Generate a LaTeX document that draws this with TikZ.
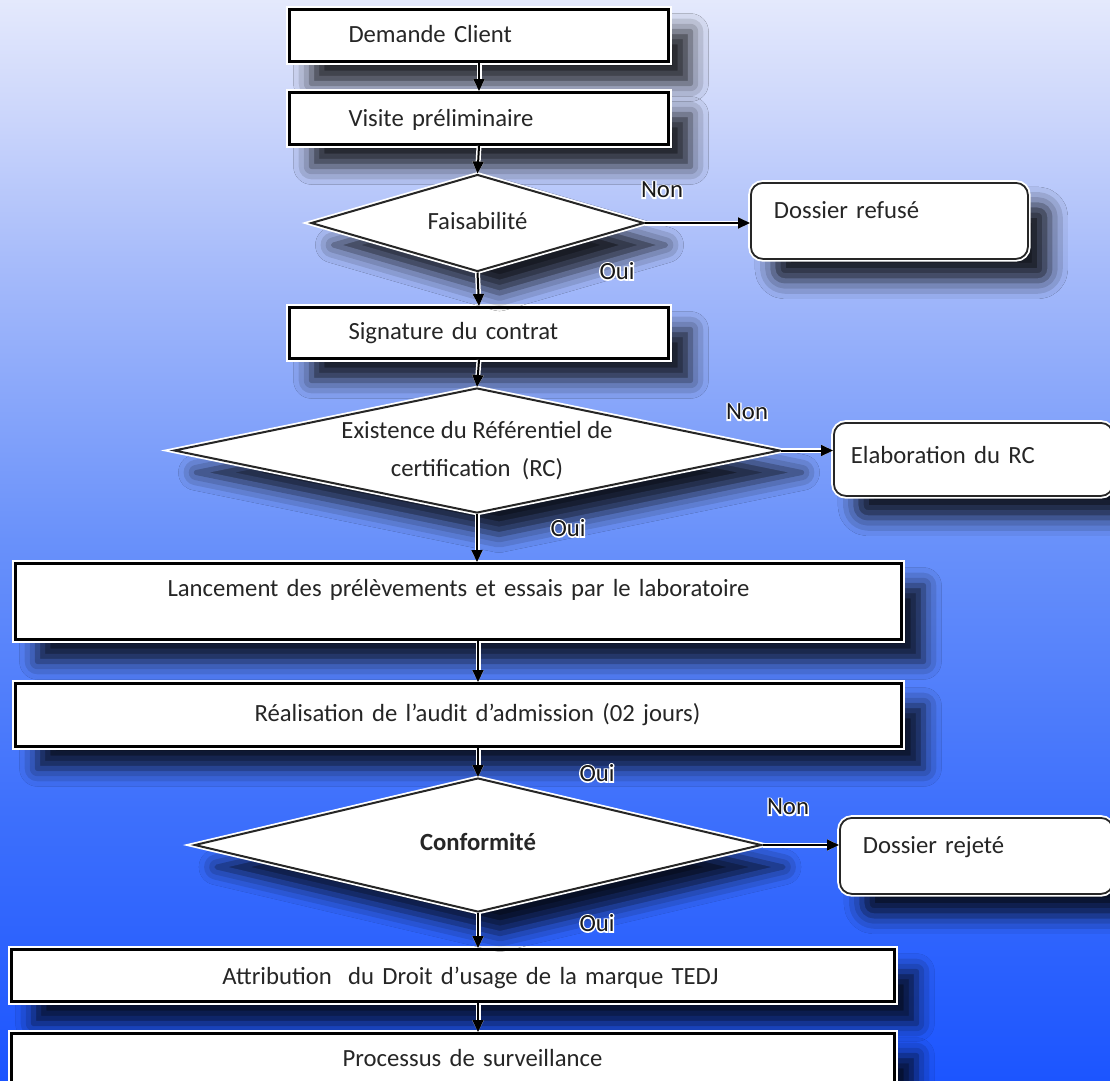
\documentclass[tikz,border=0pt]{standalone}
\usepackage{fontspec}
\setmainfont{Carlito}
\newfontfamily\halofont[FakeBold=11]{Carlito}
\usetikzlibrary{shapes.geometric,arrows.meta,shadows.blur}
\definecolor{bgA}{RGB}{28,85,255}
\definecolor{bgB}{RGB}{62,112,252}
\definecolor{bgC}{RGB}{105,145,250}
\definecolor{bgD}{RGB}{165,186,250}
\definecolor{bgE}{RGB}{205,215,251}
\definecolor{bgF}{RGB}{228,233,252}
\definecolor{txt}{RGB}{38,38,38}
\pgfdeclareverticalshading{bgshade}{100bp}{color(0bp)=(bgA); color(25bp)=(bgA); color(37.5bp)=(bgB); color(50bp)=(bgC); color(62.5bp)=(bgD); color(70bp)=(bgE); color(75bp)=(bgF); color(100bp)=(bgF)}
\newcommand\halo[1]{\leavevmode\rlap{\halofont\color{white}#1}#1}
\begin{document}
\begin{tikzpicture}[x=1pt,y=-1pt,
  every node/.style={font=\fontsize{24.7pt}{38pt}\selectfont, text=txt},
  shad/.style={blur shadow={shadow xshift=22pt,shadow yshift=-22pt,shadow blur radius=18pt,shadow opacity=85}},
  sqbox/.style={shad, preaction={draw=white,line width=7pt}, draw=black, line width=3pt, fill=white, rectangle, anchor=north west, inner ysep=0pt, align=left},
  ctbox/.style={sqbox, align=center, inner xsep=0pt},
  rbox/.style={shad, preaction={draw=white,line width=5.5pt}, draw=black!85, line width=1.8pt, fill=white, rectangle, rounded corners=12pt, anchor=north west, inner ysep=0pt, align=left},
  dia/.style={shad, preaction={draw=white,line width=5.5pt}, draw=black!85, line width=2pt, fill=white, diamond, inner sep=0pt, align=center},
  lab/.style={text=black!90, inner sep=2pt},
  arr/.style={preaction={draw=white,line width=5pt}, draw=black, line width=2pt, -{Triangle[length=12pt,width=11pt]}}
]
\useasboundingbox (0,0) rectangle (1110,1080);
\fill[shading=bgshade] (0,0) rectangle (1110,1080);

% square boxes
\node[sqbox, inner xsep=59pt, text width=261pt, text height=33pt, text depth=19pt] (b1) at (288,8) {Demande Client};
\node[sqbox, inner xsep=59pt, text width=261pt, text height=34pt, text depth=18pt] (b2) at (288,91) {Visite préliminaire};
\node[sqbox, inner xsep=59pt, text width=261pt, text height=32pt, text depth=19pt] (b3) at (288,306) {Signature du contrat};
\node[ctbox, text width=886pt, text height=33pt, text depth=43pt] (b4) at (14,562) {Lancement des prélèvements et essais par le laboratoire};
\node[ctbox, text width=886pt, text height=38pt, text depth=25pt] (b5) at (14,682) {\hspace*{38pt}Réalisation de l’audit d’admission (02 jours)};
\node[ctbox, text width=883pt, text height=35pt, text depth=17pt] (b6) at (10,948) {\hspace*{35pt}Attribution\ \ du Droit d’usage de la marque TEDJ};
\node[ctbox, text width=883pt, text height=33pt, text depth=25pt] (b7) at (10,1032) {\hspace*{39pt}Processus de surveillance};

% rounded boxes
\node[rbox, inner xsep=23pt, text width=231pt, text height=36pt, text depth=40pt] (r1) at (750,182) {Dossier refusé};
\node[rbox, inner xsep=17pt, text width=245pt, text height=41pt, text depth=32pt] (r2) at (833,422) {Elaboration du RC};
\node[rbox, inner xsep=23pt, text width=227pt, text height=36pt, text depth=40pt] (r3) at (839,817) {Dossier rejeté};

% diamonds
\node[dia, minimum width=333pt, minimum height=97pt] (d1) at (477.5,223) {\makebox[0pt]{\raisebox{4pt}{Faisabilité}}};
\node[dia, minimum width=606pt, minimum height=125pt] (d2) at (477,450.5) {\makebox[0pt]{Existence du Référentiel de}\\\makebox[0pt]{certification\ \ (RC)}};
\node[dia, minimum width=567pt, minimum height=134pt] (d3) at (478,845) {\makebox[0pt]{\raisebox{6pt}{\bfseries Conformité}}};

% connectors
\draw[arr] (b1.south) -- (b2.north);
\draw[arr] (b2.south) -- (d1.north);
\draw[arr] (d1.south) -- (b3.north);
\draw[arr] (d1.east) -- (d1.east -| r1.west);
\draw[arr] (b3.south) -- (d2.north);
\draw[arr] (d2.east) -- (d2.east -| r2.west);
\draw[arr] (d2.south) -- (d2.south |- b4.north);
\draw[arr] (d3.north |- b4.south) -- (d3.north |- b5.north);
\draw[arr] (d3.north |- b5.south) -- (d3.north);
\draw[arr] (d3.east) -- (d3.east -| r3.west);
\draw[arr] (d3.south) -- (d3.south |- b6.north);
\draw[arr] (d3.south |- b6.south) -- (d3.south |- b7.north);

% labels
\node[lab] (n1) at (662,190) {\halo{Non}};
\node[lab] (o1) at (617,271) {\halo{Oui}};
\node[lab] (n2) at (747,412) {\halo{Non}};
\node[lab] (o2) at (568,528) {\halo{Oui}};
\node[lab] (o3) at (597,773) {\halo{Oui}};
\node[lab] (n3) at (788,807) {\halo{Non}};
\node[lab] (o4) at (597,923) {\halo{Oui}};
\end{tikzpicture}
\end{document}
